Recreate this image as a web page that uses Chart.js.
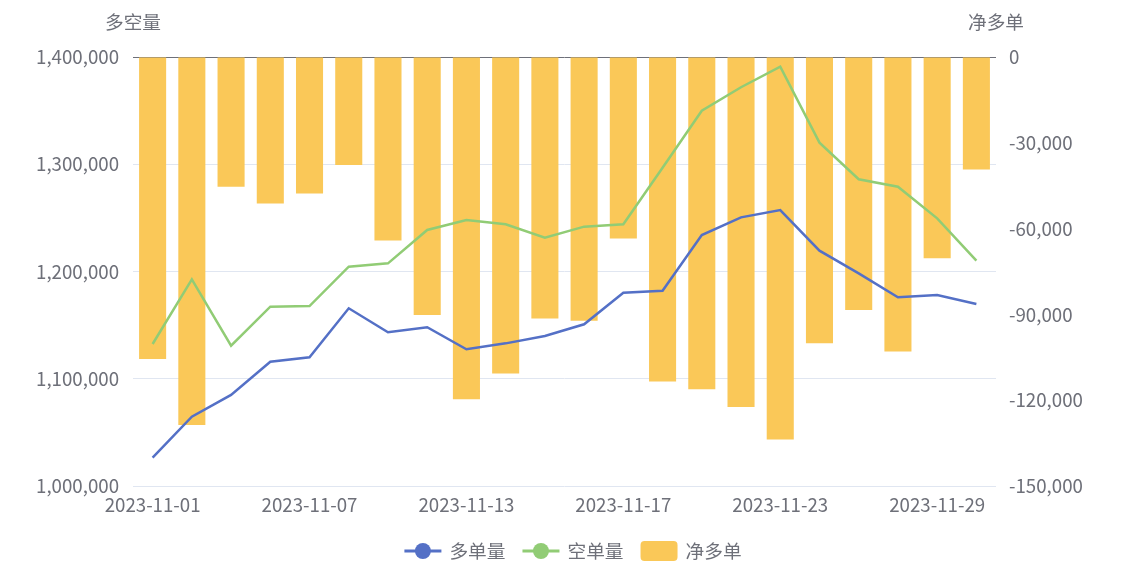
<!DOCTYPE html>
<html>
<head>
<meta charset="utf-8">
<script src="https://cdn.jsdelivr.net/npm/chart.js@4/dist/chart.umd.min.js"></script>
<style>
html,body{margin:0;padding:0;background:#fff;}
#wrap{width:1123px;height:580px;position:relative;}
</style>
</head>
<body>
<div id="wrap"><canvas id="c" width="1123" height="580"></canvas></div>
<script>
const categories = ['2023-11-01','2023-11-02','2023-11-03','2023-11-06','2023-11-07','2023-11-08','2023-11-09','2023-11-10','2023-11-13','2023-11-14','2023-11-15','2023-11-16','2023-11-17','2023-11-20','2023-11-21','2023-11-22','2023-11-23','2023-11-24','2023-11-27','2023-11-28','2023-11-29','2023-11-30'];
const longVolume = [1026400,1064600,1084900,1115900,1120000,1165700,1143300,1148000,1127500,1133000,1139900,1150800,1180200,1182100,1234000,1250500,1257300,1219400,1198300,1175900,1178100,1169700];
const shortVolume = [1132400,1192700,1130800,1167200,1167800,1204500,1207600,1238700,1248000,1244000,1231500,1241800,1244000,1296800,1349900,1371800,1391000,1320100,1286000,1279100,1249600,1210100];
const netLong = [-105600,-128700,-45400,-51200,-47700,-37800,-64200,-90200,-119700,-110700,-91400,-92200,-63500,-113500,-116200,-122400,-133700,-100100,-88500,-103000,-70400,-39300];
const seriesNames = ['多单量','空单量','净多单'];
const axisTitles = ['多空量','净多单'];
const leftTicks = {min:1000000, max:1400000, step:100000};
const rightTicks = {min:-150000, max:0, step:30000};

const FONT = '"Noto Sans CJK SC", "Liberation Sans", sans-serif';
const FSIZE = 18.7;
const TEXT = '#6e7079';
Chart.defaults.font.family = FONT;
Chart.defaults.font.size = FSIZE;
Chart.defaults.color = TEXT;

const fmt = v => Number(v).toLocaleString('en-US');

const extras = {
  id:'extras',
  afterDraw(chart){
    const ctx = chart.ctx, ca = chart.chartArea;
    ctx.save();
    ctx.font = FSIZE + 'px ' + FONT;
    ctx.fillStyle = TEXT;
    ctx.textBaseline = 'middle';
    ctx.textAlign = 'center';
    ctx.fillText(axisTitles[0], ca.left, 22);
    ctx.fillText(axisTitles[1], ca.right, 22);
    // legend
    const ds = chart.data.datasets;
    const iconW = 37, gapIT = 8, gapItems = 17;
    const widths = ds.map(d => ctx.measureText(d.label).width);
    let total = 0;
    ds.forEach((d,i)=>{ total += iconW + gapIT + widths[i]; if(i<ds.length-1) total += gapItems; });
    let x = 573 - total/2;
    const y = 551;
    ds.forEach((d,i)=>{
      if(d.type === 'line'){
        ctx.strokeStyle = d.borderColor; ctx.lineWidth = 3;
        ctx.beginPath(); ctx.moveTo(x, y); ctx.lineTo(x+iconW, y); ctx.stroke();
        ctx.fillStyle = d.borderColor;
        ctx.beginPath(); ctx.arc(x+iconW/2, y, 8, 0, Math.PI*2); ctx.fill();
      } else {
        ctx.fillStyle = d.backgroundColor;
        ctx.beginPath(); ctx.roundRect(x, y-10, iconW, 20, 4); ctx.fill();
      }
      ctx.fillStyle = TEXT; ctx.textAlign = 'left';
      ctx.fillText(d.label, x + iconW + gapIT, y);
      x += iconW + gapIT + widths[i] + gapItems;
    });
    ctx.restore();
  }
};

new Chart(document.getElementById('c'), {
  data:{
    labels: categories,
    datasets:[
      {type:'line', label:seriesNames[0], data:longVolume, yAxisID:'y', borderColor:'#5470c6', backgroundColor:'#5470c6', borderWidth:2.5, pointRadius:0, pointHoverRadius:0, tension:0, order:1},
      {type:'line', label:seriesNames[1], data:shortVolume, yAxisID:'y', borderColor:'#91cc75', backgroundColor:'#91cc75', borderWidth:2.5, pointRadius:0, pointHoverRadius:0, tension:0, order:2},
      {type:'bar', label:seriesNames[2], data:netLong, yAxisID:'y1', backgroundColor:'#fac858', borderWidth:0, barPercentage:0.69, categoryPercentage:1, order:3}
    ]
  },
  options:{
    responsive:false,
    animation:false,
    events:[],
    layout:{padding:{top:57,left:0,right:0,bottom:0}},
    plugins:{legend:{display:false}, tooltip:{enabled:false}},
    scales:{
      x:{
        type:'category',
        grid:{display:false, drawTicks:false},
        border:{display:false},
        ticks:{autoSkip:false, maxRotation:0, padding:8, callback:(v,i)=> i%4===0 ? categories[i] : ''},
        afterFit(s){ s.height = 94; }
      },
      y:{
        position:'left', min:leftTicks.min, max:leftTicks.max,
        ticks:{stepSize:leftTicks.step, padding:14, callback:v=>fmt(v)},
        grid:{drawTicks:false, lineWidth:1, color:c=> c.tick && c.tick.value===leftTicks.max ? 'rgba(0,0,0,0)' : '#e0e6f1'},
        border:{display:false},
        afterFit(s){ s.width = 133; }
      },
      y1:{
        position:'right', min:rightTicks.min, max:rightTicks.max,
        ticks:{stepSize:rightTicks.step, padding:13, callback:v=>fmt(v)},
        grid:{drawTicks:false, lineWidth:1, color:c=> c.tick && c.tick.value===0 ? '#6e7079' : 'rgba(0,0,0,0)'},
        border:{display:false},
        afterFit(s){ s.width = 127; }
      }
    }
  },
  plugins:[extras]
});
</script>
</body>
</html>
